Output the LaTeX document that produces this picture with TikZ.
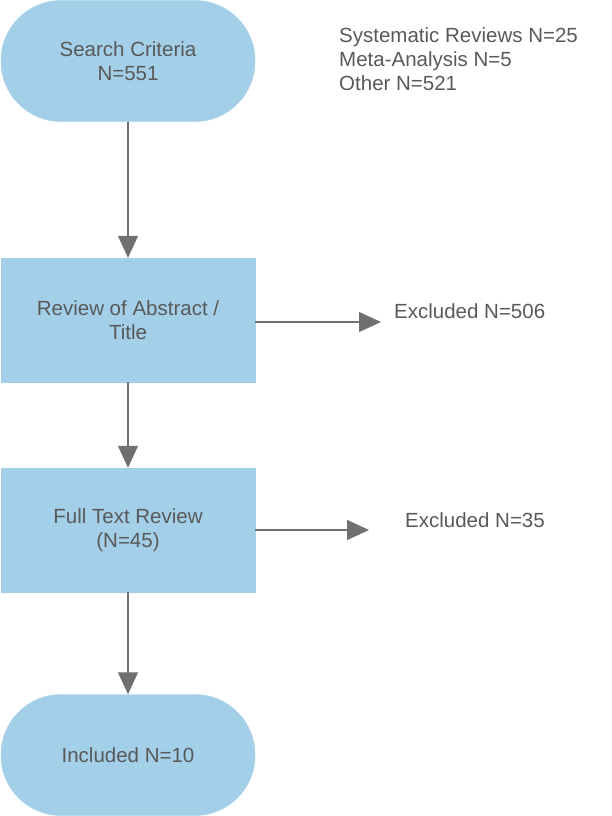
\documentclass[tikz,border=0pt]{standalone}
\usepackage{fontspec}
\setmainfont{Liberation Sans}
\usetikzlibrary{arrows.meta}
\definecolor{boxblue}{HTML}{A3CFE8}
\definecolor{txt}{HTML}{595959}
\definecolor{ln}{HTML}{707070}
\begin{document}
\begin{tikzpicture}[x=1pt,y=-1pt,
  every node/.style={font=\fontsize{20.5}{24}\selectfont,text=txt},
  term/.style={fill=boxblue,draw=boxblue,minimum width=254pt,minimum height=121pt,rounded corners=60pt,align=center,inner sep=0pt},
  proc/.style={fill=boxblue,draw=boxblue,minimum width=254pt,minimum height=124pt,align=center,inner sep=0pt},
  arr/.style={draw=ln,line width=1.2pt,-{Triangle[length=22pt,width=20pt]}}]
\useasboundingbox (0,0) rectangle (611,816);
\node[term] (s) at (128,61) {Search Criteria\\N=551};
\node[proc] (r1) at (128,320) {Review of Abstract /\\Title};
\node[proc] (r2) at (128,530) {Full Text Review\\(N=45)};
\node[term] (inc) at (128,755) {Included N=10};
\node[anchor=north west,align=left,inner sep=0pt] (info) at (339,27) {Systematic Reviews N=25\\Meta-Analysis N=5\\Other N=521};
\node[anchor=west,inner sep=0pt] (e1) at (394,311) {Excluded N=506};
\node[anchor=west,inner sep=0pt] (e2) at (405,520) {Excluded N=35};
\coordinate (c1) at (381,322);
\coordinate (c2) at (369,530);
\draw[arr] (s) -- (r1);
\draw[arr] (r1) -- (r2);
\draw[arr] (r2) -- (inc);
\draw[arr] (r1.east |- c1) -- (c1);
\draw[arr] (r2.east |- c2) -- (c2);
\end{tikzpicture}
\end{document}
